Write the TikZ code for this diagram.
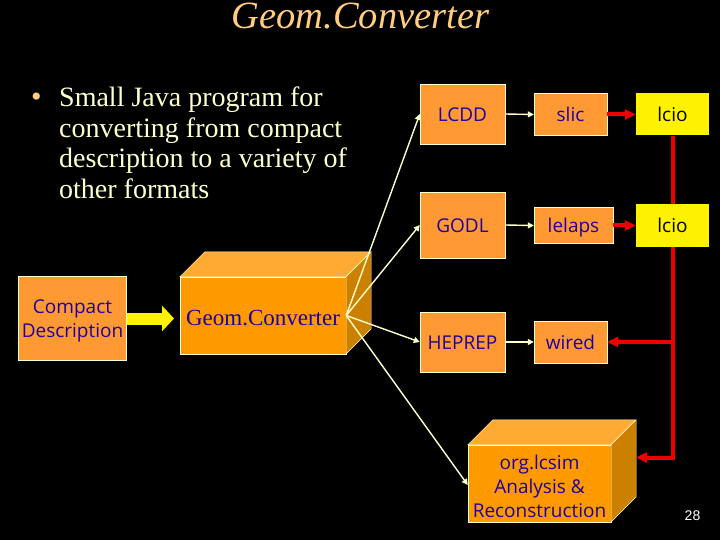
\documentclass[tikz,border=0pt]{standalone}
\usepackage{fontspec}
\setmainfont{Liberation Serif}
\newfontfamily\boxfont{Open Sans}
\newfontfamily\numfont{Liberation Sans}
\usetikzlibrary{arrows.meta}
\definecolor{boxorange}{HTML}{FF9933}
\definecolor{cubefront}{HTML}{FF9900}
\definecolor{cubetop}{HTML}{FFAA33}
\definecolor{cubeside}{HTML}{CC8000}
\definecolor{edgecream}{HTML}{FFFFCC}
\definecolor{boxtext}{HTML}{1E00A0}
\definecolor{titletan}{HTML}{FFCC80}
\definecolor{linkred}{HTML}{EE0000}
\newcommand{\downstrut}{\rule{0pt}{19.5pt}}
\tikzset{
  bluebox/.style={draw=edgecream, fill=boxorange, text=boxtext, inner sep=0pt, font=\boxfont\fontsize{19}{24}\selectfont, align=center},
  oneline/.style={text height=14.5pt, text depth=0pt},
  yellowbox/.style={fill=yellow, text=black, inner sep=0pt, minimum width=73pt, font=\boxfont\fontsize{19}{24}\selectfont},
  cubebox/.style={draw=edgecream, fill=cubefront, text=boxtext, inner sep=0pt, align=center},
  thinlink/.style={draw=edgecream, line width=1.4pt, -{Triangle[length=6pt,width=6pt]}},
  redlink/.style={draw=linkred, line width=4pt, -{Triangle[length=11pt,width=10pt]}},
  redline/.style={draw=linkred, line width=4pt},
}
\begin{document}
\begin{tikzpicture}[x=1pt,y=-1pt]
    \fill[black] (0,0) rectangle (720,540);
    \useasboundingbox (0,0) rectangle (720,540);
    % title and bullet
    \node (title) [text=titletan, inner sep=0pt, anchor=base, font=\fontsize{38.5}{38}\selectfont\itshape] at (360.5,29) {Geom.Converter};
    \node (dot) [text=titletan, inner sep=0pt, anchor=base, font=\fontsize{30}{30}\selectfont] at (36.5,107) {•};
    \node (intro) [text=edgecream, inner sep=0pt, anchor=north west, align=left, font=\fontsize{28}{30.5}\selectfont] at (59,87) {Small Java program for\\converting from compact\\description to a variety of\\other formats};
    % left side
    \node (compact) [bluebox, minimum width=108pt, minimum height=84pt] at (72.5,318.5) {\downstrut Compact\\Description};
    \node (conv) [cubebox, minimum width=166pt, minimum height=77pt, text height=19pt, text depth=0pt, font=\fontsize{23}{26}\selectfont] at (263,315.5) {Geom.Converter};
    \fill[cubetop, draw=edgecream] (conv.north west) -- ++(25,-25) -- ++(166,0) -- ++(-25,25) -- cycle;
    \fill[cubeside, draw=edgecream] (conv.north east) -- ++(25,-25) -- ++(0,77) -- ++(-25,25) -- cycle;
    \coordinate (convin) at (174,318.5);
    \draw[yellow, line width=12pt, -{Triangle[length=12pt,width=25pt]}] (compact.east) -- (convin);
    % boxes in the middle
    \node (lcdd) [bluebox, oneline, minimum width=85pt, minimum height=60pt] at (462.5,114) {LCDD};
    \node (godl) [bluebox, oneline, minimum width=85pt, minimum height=66pt] at (462.5,225) {GODL};
    \node (heprep) [bluebox, oneline, minimum width=85pt, minimum height=60pt] at (462.5,342) {HEPREP};
    \node (slic) [bluebox, oneline, minimum width=73pt, minimum height=42pt] at (570.5,114.5) {slic};
    \node (lelaps) [bluebox, oneline, minimum width=79pt, minimum height=36pt] at (573.5,225.5) {lelaps};
    \node (wired) [bluebox, oneline, minimum width=73pt, minimum height=42pt] at (570.5,342) {wired};
    \node (lcioa) [yellowbox, oneline, minimum height=42pt] at (672.5,114.5) {lcio};
    \node (lciob) [yellowbox, oneline, minimum height=42pt] at (672.5,225.5) {lcio};
    % analysis cube
    \node (lcsim) [cubebox, minimum width=143pt, minimum height=77pt, font=\boxfont\fontsize{19}{24}\selectfont] at (539.5,483.5) {\downstrut org.lcsim\\Analysis \&\\Reconstruction};
    \fill[cubetop, draw=edgecream] (lcsim.north west) -- ++(25,-25) -- ++(143,0) -- ++(-25,25) -- cycle;
    \fill[cubeside, draw=edgecream] (lcsim.north east) -- ++(25,-25) -- ++(0,77) -- ++(-25,25) -- cycle;
    \coordinate (lcsimside) at (636,457.5);
    \coordinate (busturn) at (672.5,457.5);
    \coordinate (wiredjoin) at (672.5,342);
    \node (pagenum) [text=white, inner sep=0pt, font=\numfont\fontsize{14}{16}\selectfont] at (692.5,516) {28};
    % connectors
    \draw[thinlink] (conv.east) -- (lcdd.west);
    \draw[thinlink] (conv.east) -- (godl.west);
    \draw[thinlink] (conv.east) -- (heprep.west);
    \draw[thinlink] (conv.east) -- (lcsim.west |- 0,485);
    \draw[thinlink] (lcdd.east) -- (slic.west);
    \draw[thinlink] (godl.east) -- (lelaps.west);
    \draw[thinlink] (heprep.east) -- (wired.west);
    \draw[redlink] (slic.east) -- (lcioa.west);
    \draw[redlink] (lelaps.east) -- (lciob.west);
    \draw[redline] (lcioa.south) -- (lciob.north);
    \draw[redlink] (lciob.south) -- (busturn) -- (lcsimside);
    \draw[redlink] (wiredjoin) -- (wired.east);
\end{tikzpicture}
\end{document}
